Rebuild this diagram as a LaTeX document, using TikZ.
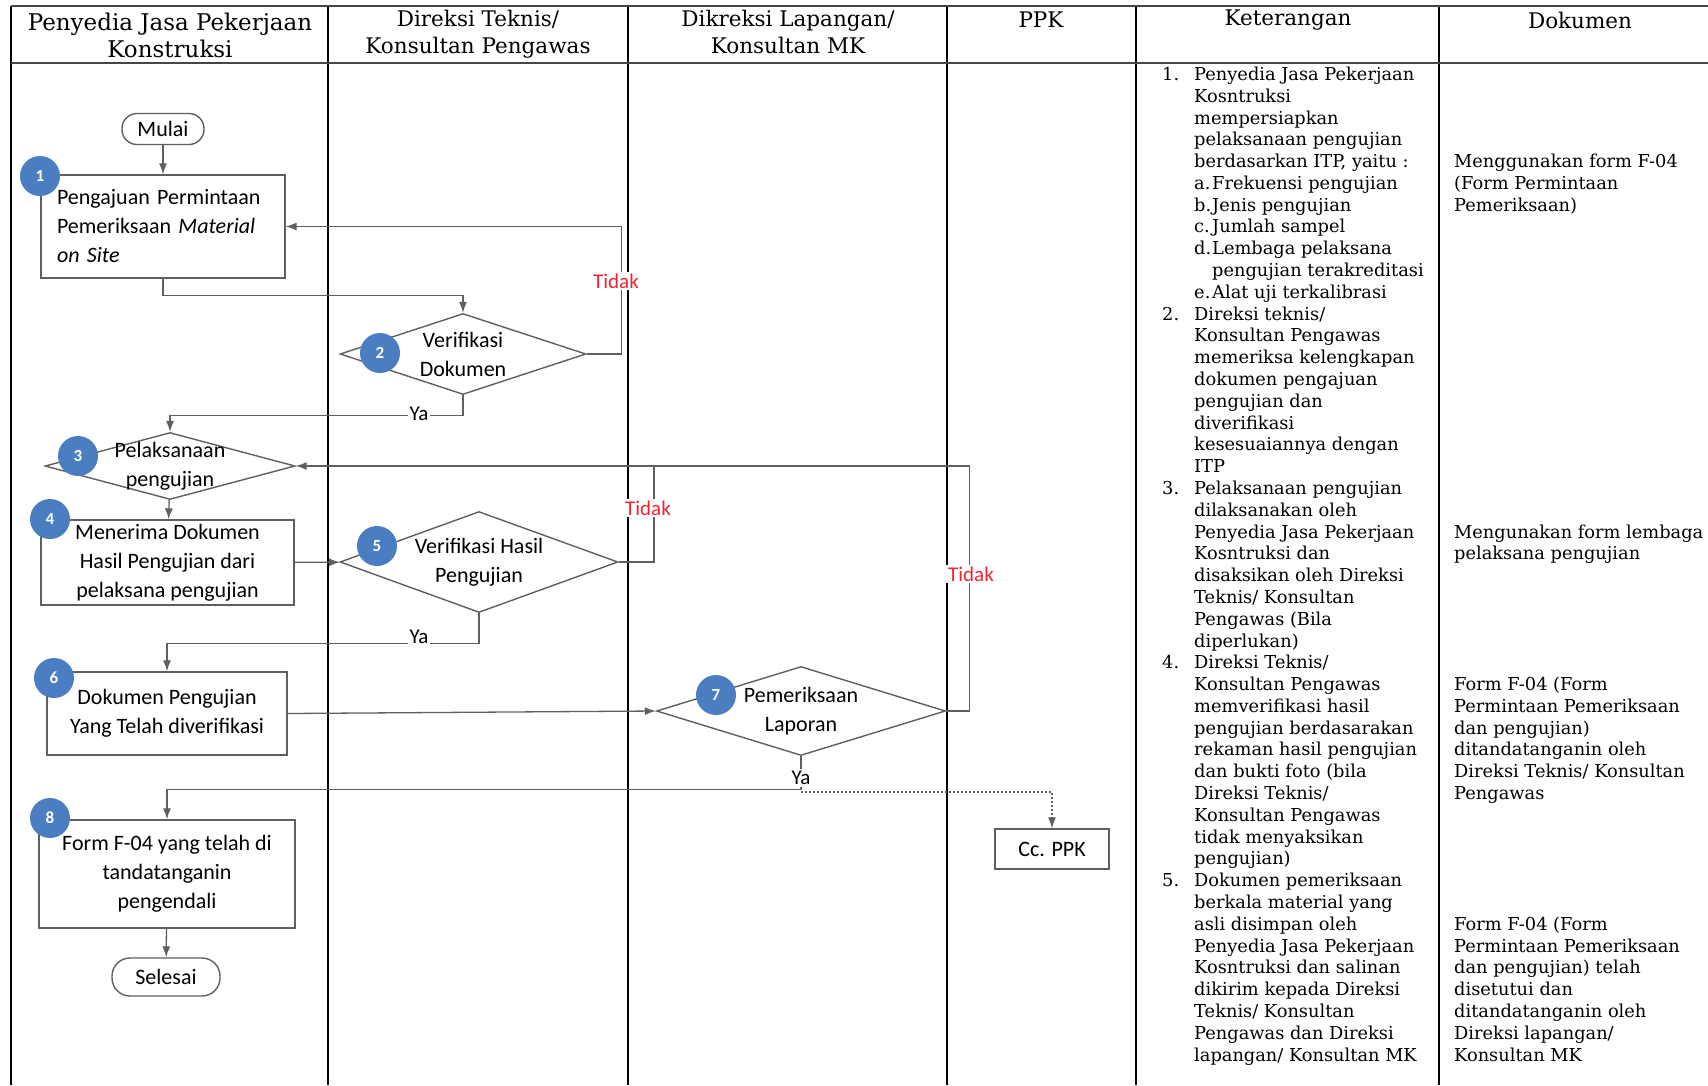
\documentclass[tikz,border=0pt]{standalone}
\usepackage{fontspec}
\usepackage{array}
\setmainfont{DejaVu Serif}
\newfontfamily\flowfont{Carlito}
\usetikzlibrary{shapes.geometric, arrows.meta}

\definecolor{stepblue}{RGB}{74,126,193}
\definecolor{tidakred}{RGB}{232,38,52}
\definecolor{linegray}{RGB}{95,95,95}
\definecolor{rulegray}{RGB}{70,70,70}

\newcommand{\ketlabel}[1]{\makebox[18pt][l]{#1}}

\begin{document}
\begin{tikzpicture}[
        x=1pt, y=-1pt,
        flowbox/.style={draw=linegray, line width=1.4pt, fill=white, align=center,
          inner sep=0pt, font=\flowfont\fontsize{22}{29}\selectfont},
        terminal/.style={flowbox, rounded corners=15pt},
        decision/.style={flowbox, diamond},
        stepnum/.style={circle, fill=stepblue, minimum size=40pt, inner sep=0pt,
          text=white, font=\flowfont\bfseries\fontsize{17}{17}\selectfont},
        flowline/.style={draw=linegray, line width=1.3pt},
        flow/.style={flowline, -{Latex[length=11pt,width=8pt]}},
        answer/.style={fill=white, inner sep=2pt, font=\flowfont\fontsize{21}{21}\selectfont},
        lane/.style={line width=1.3pt},
        head/.style={align=center, font=\fontsize{21.5}{27}\selectfont}
      ]
      \useasboundingbox (0,0) rectangle (1708,1085);

      % lanes and header
      \foreach \x in {11,328,628,947,1136,1439}
        \draw[lane] (\x,6) -- (\x,1085);
      \draw[rulegray, line width=2.5pt] (11,6) -- (1708,6) (11,63) -- (1708,63);

      \node[head, font=\fontsize{23}{27}\selectfont] (h1) at (170,35) {Penyedia Jasa Pekerjaan\\Konstruksi};
      \node[head] (h2) at (478,34) {Direksi Teknis/\\Konsultan Pengawas};
      \node[head] (h3) at (788,32) {Dikreksi Lapangan/\\Konsultan MK};
      \node[head] (h4) at (1041,20) {PPK};
      \node[head] (h5) at (1288,20) {Keterangan};
      \node[head] (h6) at (1580,20) {Dokumen};

      % flow
      \node[terminal, minimum width=82pt, minimum height=31pt] (mulai) at (163,129) {Mulai};
      \node[flowbox, text width=212pt, align=left, inner xsep=16pt, minimum height=103pt]
        (p1) at (163,226.5) {Pengajuan Permintaan\\Pemeriksaan \textit{Material}\\\textit{on Site}};
      \node[decision, aspect=3.04, minimum width=246pt, minimum height=81pt] (d2) at (463,354) {Verifikasi\\Dokumen};
      \node[decision, aspect=3.73, inner ysep=-8pt, minimum width=250pt, minimum height=67pt] (d3) at (170,466) {Pelaksanaan\\pengujian};
      \node[flowbox, minimum width=253pt, minimum height=85pt] (p4) at (167.5,562.5) {Menerima Dokumen\\Hasil Pengujian dari\\pelaksana pengujian};
      \node[decision, aspect=2.75, minimum width=278pt, minimum height=101pt] (d5) at (479,562) {Verifikasi Hasil\\Pengujian};
      \node[flowbox, minimum width=240pt, minimum height=83pt] (p6) at (167,713.5) {Dokumen Pengujian\\Yang Telah diverifikasi};
      \node[decision, aspect=3.25, minimum width=289pt, minimum height=89pt] (d7) at (801,711) {Pemeriksaan\\Laporan};
      \node[flowbox, minimum width=114pt, minimum height=40pt] (ppk) at (1052,849) {Cc. PPK};
      \node[flowbox, minimum width=256pt, minimum height=108pt] (p8) at (167,874) {Form F-04 yang telah di\\tandatanganin\\pengendali};
      \node[terminal, rounded corners=18pt, minimum width=108pt, minimum height=38pt] (selesai) at (166,977) {Selesai};

      \node[stepnum] (n1) at (40,176) {1};
      \node[stepnum] (n2) at (380,353) {2};
      \node[stepnum] (n3) at (78,456) {3};
      \node[stepnum] (n4) at (50,519) {4};
      \node[stepnum] (n5) at (377,546) {5};
      \node[stepnum] (n6) at (54,678) {6};
      \node[stepnum] (n7) at (716,695) {7};
      \node[stepnum] (n8) at (50,818) {8};

      \coordinate (j5) at (654,466);
      \coordinate (cc) at (801,792);

      \draw[flow] (mulai) -- (p1);
      \draw[flow] (p1.south) -- ++(0,17) -| (d2.north);
      \draw[flow] (d2.east) -- ++(35,0) |- (p1.east);
      \draw[flow] (d2.south) -- ++(0,20) -| (d3.north);
      \draw[flow] (d3) -- (p4);
      \draw[flow] (p4) -- (d5);
      \draw[flowline] (d5.east) -| (j5);
      \draw[flow] (d5.south) -- ++(0,30) -| (p6.north);
      \draw[flow] (p6.east) -- (d7.west);
      \draw[flow] (d7.east) -- ++(23,0) |- (d3.east);
      \draw[flow] (d7.south) -- ++(0,33) -| (p8.north);
      \draw[flow, dash pattern=on 2pt off 2pt] (cc) -| (ppk.north);
      \draw[flow] (p8) -- (selesai);

      \node[answer, text=tidakred] (no2) at (616,281) {Tidak};
      \node[answer, text=tidakred] (no5) at (648,508) {Tidak};
      \node[answer, text=tidakred] (no7) at (971,574) {Tidak};
      \node[answer] (ya2) at (419,414) {Ya};
      \node[answer] (ya5) at (419,637) {Ya};
      \node[answer] (ya7) at (801,778) {Ya};

      % notes and documents
      \node[anchor=north west, inner sep=0pt, font=\fontsize{17.8}{21.79}\selectfont] (notes) at (1162,65) {%
        \begin{tabular}{@{}w{l}{32pt}@{}w{l}{260pt}@{}l@{}}
          1. & Penyedia Jasa Pekerjaan \\
             & Kosntruksi \\
             & mempersiapkan \\
             & pelaksanaan pengujian \\
             & berdasarkan ITP, yaitu : & Menggunakan form F-04 \\
             & \ketlabel{a.}Frekuensi pengujian & (Form Permintaan \\
             & \ketlabel{b.}Jenis pengujian & Pemeriksaan) \\
             & \ketlabel{c.}Jumlah sampel \\
             & \ketlabel{d.}Lembaga pelaksana \\
             & \ketlabel{}pengujian terakreditasi \\
             & \ketlabel{e.}Alat uji terkalibrasi \\
          2. & Direksi teknis/ \\
             & Konsultan Pengawas \\
             & memeriksa kelengkapan \\
             & dokumen pengajuan \\
             & pengujian dan \\
             & diverifikasi \\
             & kesesuaiannya dengan \\
             & ITP \\
          3. & Pelaksanaan pengujian \\
             & dilaksanakan oleh \\
             & Penyedia Jasa Pekerjaan & Mengunakan form lembaga \\
             & Kosntruksi dan & pelaksana pengujian \\
             & disaksikan oleh Direksi \\
             & Teknis/ Konsultan \\
             & Pengawas (Bila \\
             & diperlukan) \\
          4. & Direksi Teknis/ \\
             & Konsultan Pengawas & Form F-04 (Form \\
             & memverifikasi hasil & Permintaan Pemeriksaan \\
             & pengujian berdasarakan & dan pengujian) \\
             & rekaman hasil pengujian & ditandatanganin oleh \\
             & dan bukti foto (bila & Direksi Teknis/ Konsultan \\
             & Direksi Teknis/ & Pengawas \\
             & Konsultan Pengawas \\
             & tidak menyaksikan \\
             & pengujian) \\
          5. & Dokumen pemeriksaan \\
             & berkala material yang \\
             & asli disimpan oleh & Form F-04 (Form \\
             & Penyedia Jasa Pekerjaan & Permintaan Pemeriksaan \\
             & Kosntruksi dan salinan & dan pengujian) telah \\
             & dikirim kepada Direksi & disetutui dan \\
             & Teknis/ Konsultan & ditandatanganin oleh \\
             & Pengawas dan Direksi & Direksi lapangan/ \\
             & lapangan/ Konsultan MK & Konsultan MK \\
        \end{tabular}};

\end{tikzpicture}
\end{document}
